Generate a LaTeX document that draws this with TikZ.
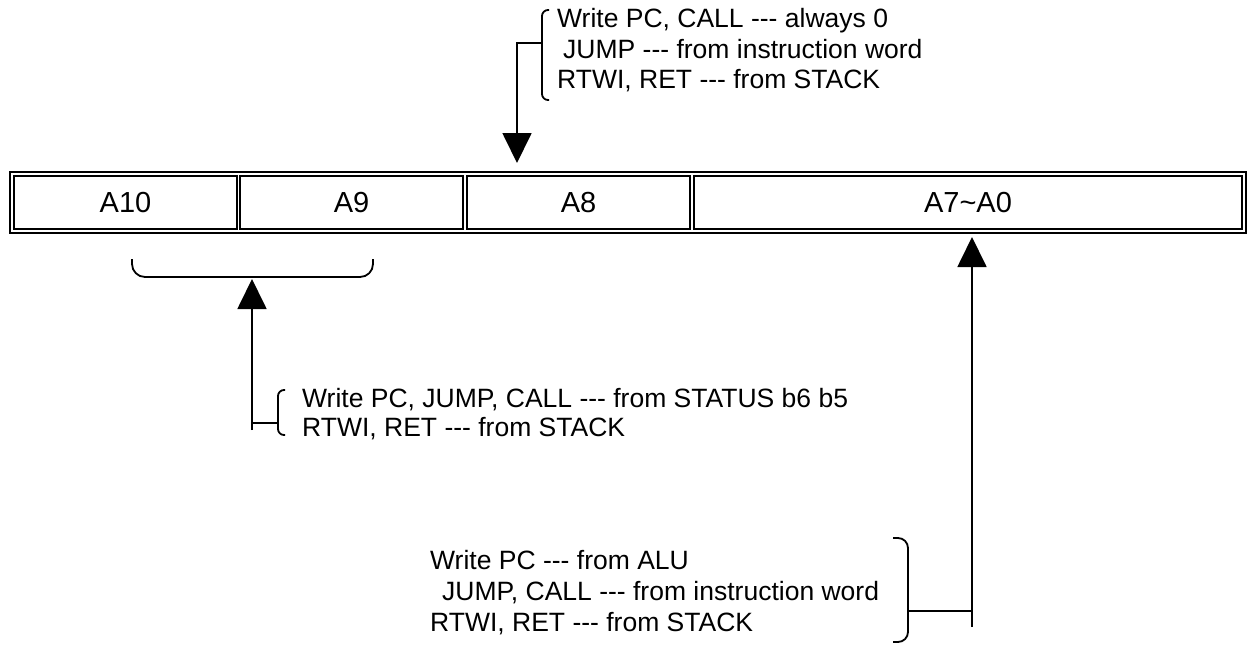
\documentclass[tikz,border=0pt]{standalone}
\usepackage{fontspec}
\setmainfont{Liberation Sans}[Ligatures=TeXOff]
\usetikzlibrary{arrows.meta}
\newcommand\ddd{-\kern0pt-\kern0pt-}
\tikzset{
  x=1pt, y=-1pt,
  ln/.style={line width=1.8pt},
  cell/.style={draw, line width=1.8pt, minimum height=53pt, inner sep=0pt, font=\fontsize{29}{35}\selectfont},
  ann/.style={anchor=base west, inner sep=0pt, font=\fontsize{26.5}{31}\selectfont},
  arr/.style={line width=1.8pt, -{Triangle[length=30pt,width=29pt]}},
  brk/.style={line width=1.8pt},
}
\begin{document}
\begin{tikzpicture}
\useasboundingbox (0,0) rectangle (1253,646);
% register
\node[draw, line width=1.8pt, minimum width=1236pt, minimum height=61pt, inner sep=0pt] (reg) at (628,202.5) {};
\node[cell, minimum width=223pt] (c10) at (125.5,202.5) {A10};
\node[cell, minimum width=223pt] (c9) at (351.5,202.5) {A9};
\node[cell, minimum width=223pt] (c8) at (578.5,202.5) {A8};
\node[cell, minimum width=548pt] (c7) at (968,202.5) {A7\textasciitilde A0};

% top annotation
\node[ann] (t1) at (557,27) {Write PC, CALL \ddd{} always 0};
\node[ann] (t2) at (563,58) {JUMP \ddd{} from instruction word};
\node[ann] (t3) at (557,88) {RTWI, RET \ddd{} from STACK};
\draw[brk, rounded corners=6pt] (549,10) -- (542,10) -- (542,100) -- (549,100);
\coordinate (tj) at (542,43);
\coordinate (tt) at (517,163);
\draw[arr] (tj) -| (tt);

% left annotation
\draw[brk, rounded corners=13pt] (132,259) -- (132,277) -- (373,277) -- (373,259);
\coordinate (lt) at (252,279);
\coordinate (lb) at (252,430);
\coordinate (lj) at (252,423);
\coordinate (lk) at (278,423);
\draw[arr] (lb) -- (lt);
\draw[ln] (lj) -- (lk);
\draw[brk, rounded corners=6pt] (285,390) -- (278,390) -- (278,435) -- (285,435);
\node[ann] (l1) at (302,407) {Write PC, JUMP, CALL \ddd{} from STATUS b6 b5};
\node[ann] (l2) at (302,436) {RTWI, RET \ddd{} from STACK};

% bottom annotation
\node[ann] (b1) at (430,569) {Write PC \ddd{} from ALU};
\node[ann] (b2) at (442,600) {JUMP, CALL \ddd{} from instruction word};
\node[ann] (b3) at (430,631) {RTWI, RET \ddd{} from STACK};
\draw[brk, rounded corners=10pt] (893,538) -- (908,538) -- (908,642) -- (893,642);
\coordinate (bt) at (972,237);
\coordinate (bb) at (972,627);
\coordinate (bj) at (972,611);
\coordinate (bk) at (908,611);
\draw[arr] (bb) -- (bt);
\draw[ln] (bk) -- (bj);
\end{tikzpicture}
\end{document}
